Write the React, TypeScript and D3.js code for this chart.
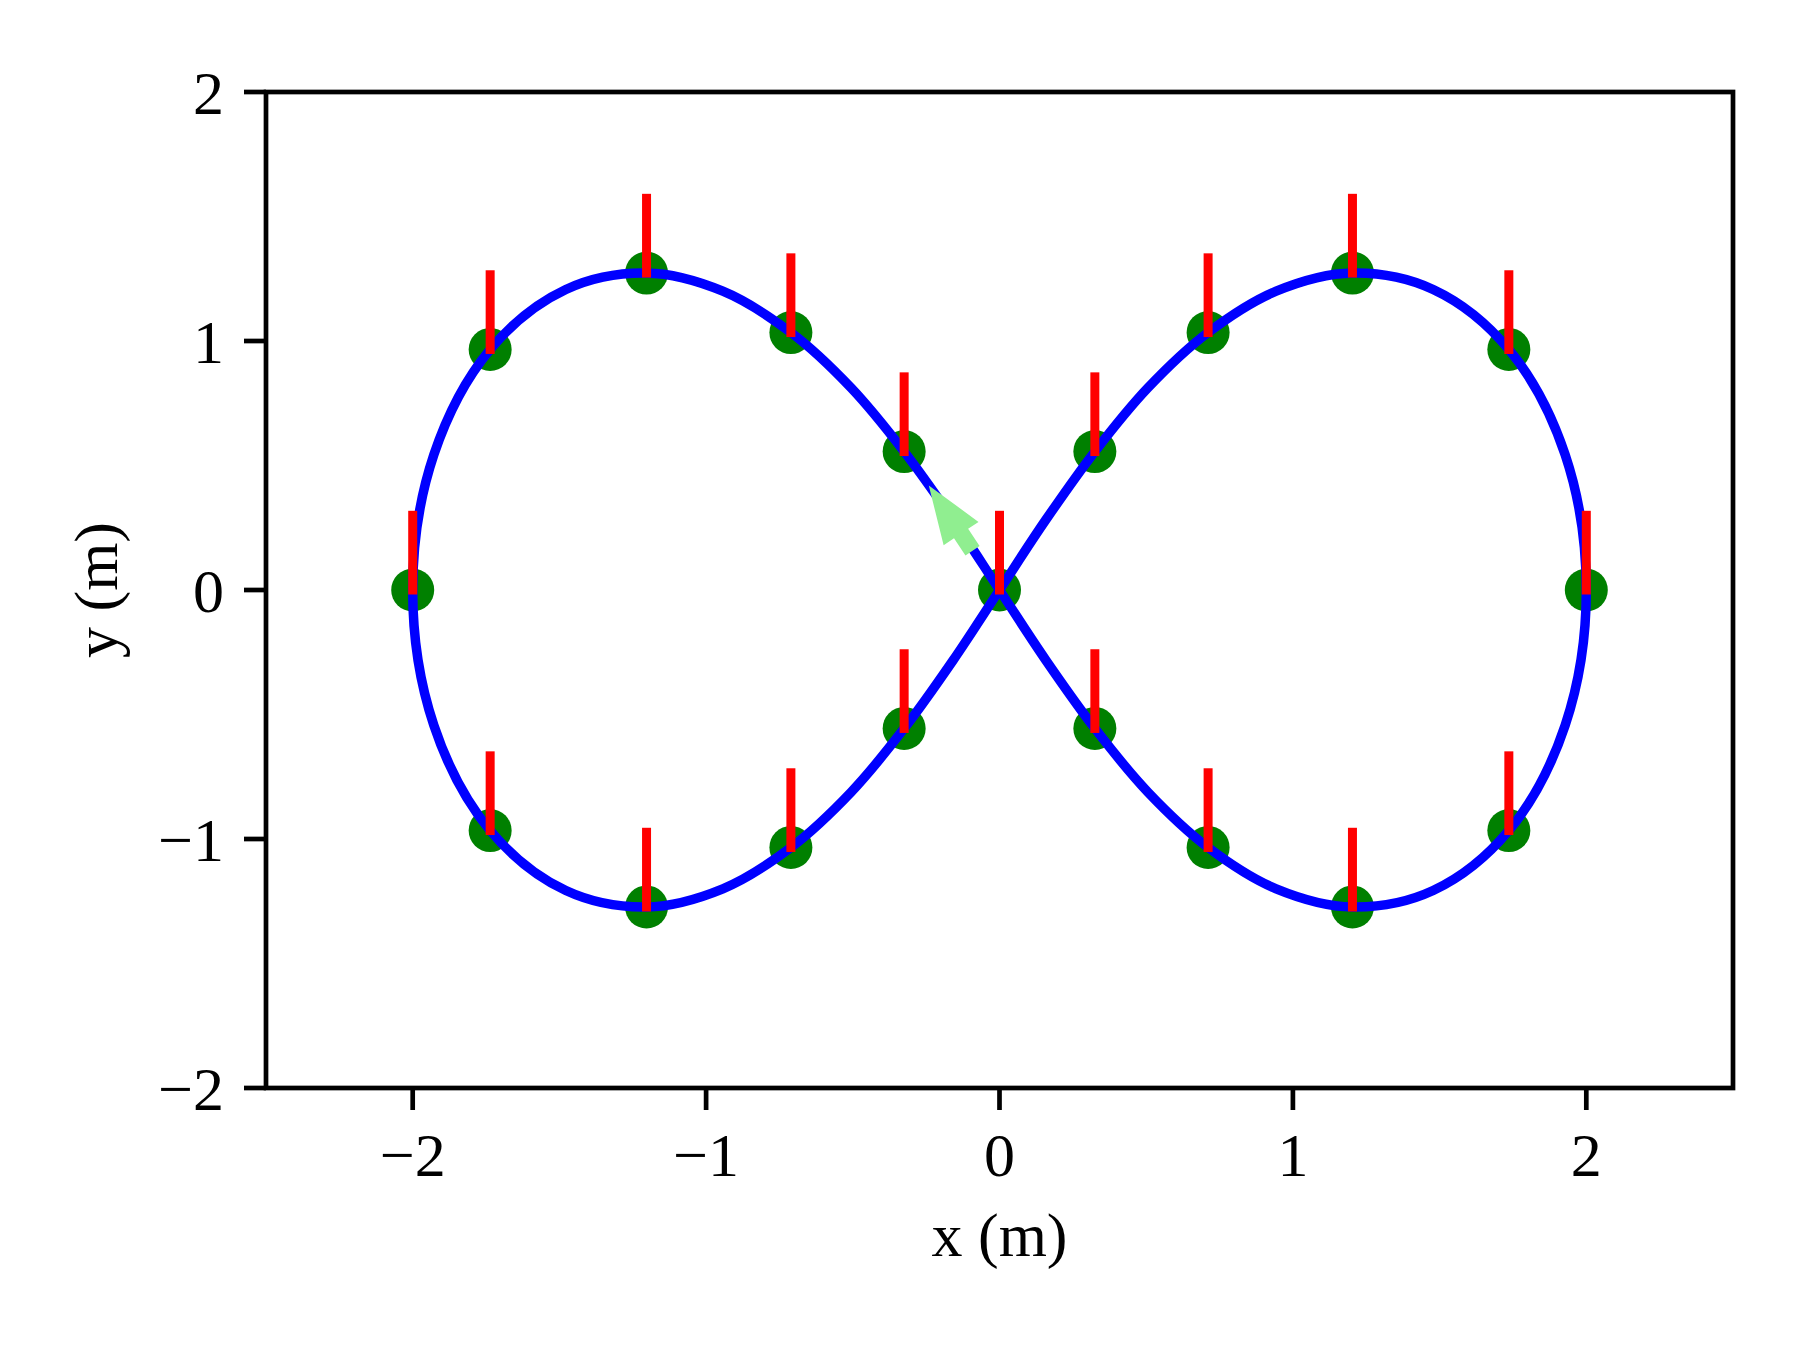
import React from 'react';
import * as d3 from 'd3';

// figure-8 path (x, y in metres)
const curveX = [2, 1.928, 1.736, 1.478, 1.203, 0.943, 0.711, 0.506, 0.325, 0.158,
  0, -0.158, -0.325, -0.506, -0.711, -0.943, -1.203, -1.478, -1.736, -1.928,
  -2, -1.928, -1.736, -1.478, -1.203, -0.943, -0.711, -0.506, -0.325, -0.158,
  0, 0.158, 0.325, 0.506, 0.711, 0.943, 1.203, 1.478, 1.736, 1.928];
const curveY = [0, 0.543, 0.966, 1.207, 1.273, 1.2, 1.034, 0.812, 0.556, 0.282,
  0, -0.282, -0.556, -0.812, -1.034, -1.2, -1.273, -1.207, -0.966, -0.543,
  0, 0.543, 0.966, 1.207, 1.273, 1.2, 1.034, 0.812, 0.556, 0.282,
  0, -0.282, -0.556, -0.812, -1.034, -1.2, -1.273, -1.207, -0.966, -0.543];

// sampled poses (green dots) and their heading bars (red)
const markerX = [2, 1.736, 1.203, 0.711, 0.325, 0, -0.325, -0.711, -1.203, -1.736,
  -2, -1.736, -1.203, -0.711, -0.325, 0.325, 0.711, 1.203, 1.736];
const markerY = [0, 0.966, 1.273, 1.034, 0.556, 0, -0.556, -1.034, -1.273, -0.966,
  0, 0.966, 1.273, 1.034, 0.556, -0.556, -1.034, -1.273, -0.966];
const headingLen = 0.3;

// direction arrow (start -> end, metres)
const arrowStart = [-0.092, 0.158];
const arrowEnd = [-0.241, 0.42];

const xTicks = [-2, -1, 0, 1, 2];
const yTicks = [-2, -1, 0, 1, 2];
const xLabel = 'x (m)';
const yLabel = 'y (m)';

const W = 1800;
const H = 1350;
const left = 266, right = 1733, top = 92, bottom = 1088;
const font = '"Liberation Serif", "Times New Roman", serif';
const fs = 62;
const tickLen = 22;
const axisW = 4.7;

const App = () => {
  const x = d3.scaleLinear().domain([-2.5, 2.5]).range([left, right]);
  const y = d3.scaleLinear().domain([-2, 2]).range([bottom, top]);
  const fmt = d3.format('d');

  const pts: [number, number][] = curveX.map((v, i) => [v, curveY[i]]);
  const path = d3.line<[number, number]>()
    .x(d => x(d[0]))
    .y(d => y(d[1]))
    .curve(d3.curveCatmullRomClosed.alpha(0.5))(pts);

  // arrow polygon in pixels
  const sx = x(arrowStart[0]), sy = y(arrowStart[1]);
  const ex = x(arrowEnd[0]), ey = y(arrowEnd[1]);
  const len = Math.hypot(ex - sx, ey - sy);
  const ux = (ex - sx) / len, uy = (ey - sy) / len;
  const px = -uy, py = ux;
  const headL = 58, headW = 21, shaftW = 8.5;
  const bx = ex - ux * headL, by = ey - uy * headL;
  const arrowPts = [
    [sx + px * shaftW, sy + py * shaftW],
    [bx + px * shaftW, by + py * shaftW],
    [bx + px * headW, by + py * headW],
    [ex, ey],
    [bx - px * headW, by - py * headW],
    [bx - px * shaftW, by - py * shaftW],
    [sx - px * shaftW, sy - py * shaftW],
  ].map(p => p.join(',')).join(' ');

  return (
    <div style={{ position: 'absolute', left: 0, top: 0 }}>
      <svg width={W} height={H} style={{ display: 'block', background: '#fff' }} fontFamily={font}>
        <rect width={W} height={H} fill="#fff" />
        <defs>
          <clipPath id="plotArea">
            <rect x={left} y={top} width={right - left} height={bottom - top} />
          </clipPath>
        </defs>
        <g clipPath="url(#plotArea)">
          {markerX.map((v, i) => (
            <circle key={'m' + i} cx={x(v)} cy={y(markerY[i])} r={21.5} fill="#008000" />
          ))}
          <path d={path || ''} fill="none" stroke="#0000ff" strokeWidth={9.5} />
          <polygon points={arrowPts} fill="#90ee90" />
          {markerX.map((v, i) => (
            <line key={'h' + i} x1={x(v)} x2={x(v)} y1={y(markerY[i])} y2={y(markerY[i] + headingLen)}
              stroke="#ff0000" strokeWidth={9} strokeLinecap="square" />
          ))}
        </g>
        <rect x={left} y={top} width={right - left} height={bottom - top} fill="none" stroke="#000" strokeWidth={axisW} />
        {xTicks.map(t => (
          <g key={'xt' + t}>
            <line x1={x(t)} x2={x(t)} y1={bottom} y2={bottom + tickLen} stroke="#000" strokeWidth={axisW} />
            <text x={x(t)} y={1176} textAnchor="middle" fontSize={fs}>{fmt(t)}</text>
          </g>
        ))}
        {yTicks.map(t => (
          <g key={'yt' + t}>
            <line x1={left - tickLen} x2={left} y1={y(t)} y2={y(t)} stroke="#000" strokeWidth={axisW} />
            <text x={left - tickLen - 20} y={y(t)} dy="0.35em" textAnchor="end" fontSize={fs}>{fmt(t)}</text>
          </g>
        ))}
        <text x={(left + right) / 2} y={1256} textAnchor="middle" fontSize={fs}>{xLabel}</text>
        <text transform={`translate(117,${(top + bottom) / 2}) rotate(-90)`} textAnchor="middle" fontSize={fs}>{yLabel}</text>
      </svg>
    </div>
  );
};

export default App;
